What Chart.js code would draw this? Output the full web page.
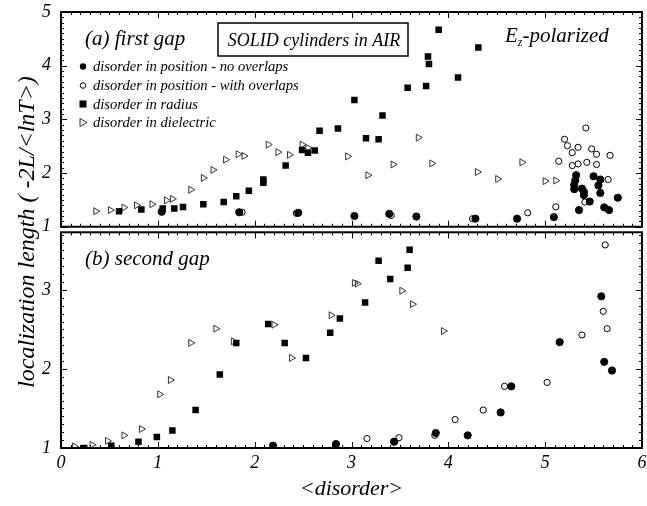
<!DOCTYPE html>
<html>
<head>
<meta charset="utf-8">
<script src="https://cdn.jsdelivr.net/npm/chart.js@4.4.1/dist/chart.umd.min.js"></script>
<style>
  html, body { margin: 0; background: #fff; }
</style>
</head>
<body>
<canvas id="gapChart" width="647" height="506"></canvas>
<script>
// (a) first gap
const aNoOverlapX = [1.04, 1.84, 2.45, 3.03, 3.39, 3.67, 4.28, 4.71, 5.09, 5.32, 5.31, 5.30, 5.30, 5.38, 5.40, 5.40, 5.50, 5.57, 5.55, 5.57, 5.46, 5.35, 5.61, 5.66, 5.75];
const aNoOverlapY = [1.28, 1.27, 1.26, 1.20, 1.24, 1.19, 1.15, 1.15, 1.18, 1.96, 1.86, 1.78, 1.70, 1.71, 1.65, 1.59, 1.94, 1.88, 1.77, 1.63, 1.47, 1.31, 1.36, 1.31, 1.54];
const aOverlapX = [1.87, 2.43, 3.41, 4.25, 4.82, 5.11, 5.14, 5.20, 5.23, 5.28, 5.34, 5.42, 5.48, 5.53, 5.67, 5.28, 5.34, 5.43, 5.53, 5.65, 5.41];
const aOverlapY = [1.27, 1.25, 1.21, 1.15, 1.26, 1.37, 2.22, 2.63, 2.51, 2.38, 2.48, 2.84, 2.45, 2.35, 2.33, 2.14, 2.17, 2.20, 2.16, 1.88, 1.46];
const aRadiusX = [0.60, 0.83, 1.05, 1.17, 1.26, 1.47, 1.68, 1.81, 1.94, 2.09, 2.09, 2.32, 2.49, 2.55, 2.62, 2.67, 2.86, 3.03, 3.15, 3.28, 3.32, 3.58, 3.77, 3.79, 3.80, 3.90, 4.10, 4.31];
const aRadiusY = [1.29, 1.32, 1.34, 1.34, 1.37, 1.42, 1.46, 1.57, 1.67, 1.82, 1.88, 2.14, 2.43, 2.38, 2.42, 2.79, 2.83, 3.36, 2.65, 2.63, 3.07, 3.59, 3.62, 4.17, 4.03, 4.67, 3.78, 4.34];
const aDielX = [0.36, 0.51, 0.65, 0.78, 0.94, 1.09, 1.15, 1.34, 1.47, 1.57, 1.70, 1.83, 1.89, 2.14, 2.24, 2.36, 2.49, 2.55, 2.96, 3.17, 3.43, 3.69, 3.83, 4.30, 4.51, 4.76, 5.00, 5.11];
const aDielY = [1.29, 1.31, 1.36, 1.40, 1.42, 1.49, 1.52, 1.69, 1.91, 2.06, 2.25, 2.35, 2.32, 2.53, 2.39, 2.34, 2.53, 2.47, 2.31, 1.96, 2.16, 2.66, 2.18, 2.02, 1.89, 2.20, 1.85, 1.86];

// (b) second gap
const bNoOverlapX = [2.19, 2.84, 3.44, 3.87, 4.20, 4.54, 4.65, 5.15, 5.58, 5.61, 5.69];
const bNoOverlapY = [1.03, 1.05, 1.08, 1.19, 1.16, 1.45, 1.78, 2.34, 2.92, 2.09, 1.98];
const bOverlapX = [3.16, 3.49, 3.86, 4.07, 4.36, 4.58, 5.02, 5.38, 5.60, 5.64, 5.62];
const bOverlapY = [1.12, 1.13, 1.16, 1.36, 1.48, 1.78, 1.83, 2.43, 2.73, 2.51, 3.57];
const bRadiusX = [0.24, 0.52, 0.80, 0.99, 1.15, 1.39, 1.64, 1.81, 2.14, 2.31, 2.53, 2.78, 2.88, 3.14, 3.28, 3.40, 3.58, 3.60];
const bRadiusY = [1.00, 1.03, 1.08, 1.14, 1.22, 1.48, 1.93, 2.33, 2.57, 2.33, 2.14, 2.46, 2.64, 2.84, 3.37, 3.14, 3.28, 3.51];
const bDielX = [0.14, 0.32, 0.48, 0.65, 0.83, 1.02, 1.13, 1.34, 1.60, 1.78, 2.20, 2.38, 2.79, 3.03, 3.06, 3.52, 3.63, 3.95];
const bDielY = [1.02, 1.04, 1.09, 1.16, 1.24, 1.68, 1.86, 2.33, 2.51, 2.35, 2.56, 2.14, 2.68, 3.09, 3.08, 2.99, 2.82, 2.48];

const xTicks = [0, 1, 2, 3, 4, 5, 6];
const legendLabels = [
  "disorder in position - no overlaps",
  "disorder in position - with overlaps",
  "disorder in radius",
  "disorder in dielectric"
];

const serif = "'Liberation Serif', 'DejaVu Serif', serif";

function pts(xs, ys) {
  return xs.map((x, i) => ({ x: x, y: ys[i] }));
}

// marker looks for the four kinds of disorder
const filledDot = { pointStyle: "circle", pointRadius: 3.6, backgroundColor: "#000", borderColor: "#000", borderWidth: 1 };
const openDot = { pointStyle: "circle", pointRadius: 3.1, backgroundColor: "#fff", borderColor: "#000", borderWidth: 1 };
const square = { pointStyle: "rect", pointRadius: 4.6, backgroundColor: "#000", borderColor: "#000", borderWidth: 0 };
const tri = { pointStyle: "triangle", pointRadius: 4, rotation: 90, backgroundColor: "rgba(0,0,0,0)", borderColor: "#333", borderWidth: 1 };

function ds(label, data, look, axis) {
  return Object.assign({ label: label, data: data, yAxisID: axis, showLine: false }, look);
}

const datasets = [
  ds(legendLabels[0], pts(aNoOverlapX, aNoOverlapY), filledDot, "yTop"),
  ds(legendLabels[1], pts(aOverlapX, aOverlapY), openDot, "yTop"),
  ds(legendLabels[2], pts(aRadiusX, aRadiusY), square, "yTop"),
  ds(legendLabels[3], pts(aDielX, aDielY), tri, "yTop"),
  ds(legendLabels[0], pts(bNoOverlapX, bNoOverlapY), filledDot, "yBottom"),
  ds(legendLabels[1], pts(bOverlapX, bOverlapY), openDot, "yBottom"),
  ds(legendLabels[2], pts(bRadiusX, bRadiusY), square, "yBottom"),
  ds(legendLabels[3], pts(bDielX, bDielY), tri, "yBottom")
];

// frames, inward tick marks and the annotations
const decorations = {
  id: "decorations",
  afterDraw(chart) {
    const ctx = chart.ctx;
    const xs = chart.scales.x;
    const panels = [
      { s: chart.scales.yTop, lo: 1, hi: 5 },
      { s: chart.scales.yBottom, lo: 1, hi: 3.73 }
    ];
    ctx.save();
    ctx.strokeStyle = "#000";
    panels.forEach(p => {
      const top = p.s.getPixelForValue(p.hi);
      const bot = p.s.getPixelForValue(p.lo);
      const l = xs.getPixelForValue(0), r = xs.getPixelForValue(6);
      ctx.lineWidth = 1;
      ctx.beginPath();
      for (let i = 0; i <= 60; i++) {
        const px = Math.round(xs.getPixelForValue(i / 10)) + 0.5;
        const len = i % 10 === 0 ? 6 : 3;
        ctx.moveTo(px, bot); ctx.lineTo(px, bot - len);
        ctx.moveTo(px, top); ctx.lineTo(px, top + len);
      }
      for (let v = Math.round(p.lo * 10); v <= Math.floor(p.hi * 10); v++) {
        const py = Math.round(p.s.getPixelForValue(v / 10)) + 0.5;
        const len = v % 10 === 0 ? 6 : 3;
        ctx.moveTo(l, py); ctx.lineTo(l + len, py);
        ctx.moveTo(r, py); ctx.lineTo(r - len, py);
      }
      ctx.stroke();
      ctx.lineWidth = 2;
      ctx.strokeRect(l, top, r - l, bot - top);
    });

    ctx.fillStyle = "#000";
    ctx.textBaseline = "alphabetic";
    ctx.textAlign = "left";
    ctx.font = "italic 21px " + serif;
    ctx.fillText("(a) first gap", 85, 45);
    ctx.fillText("(b) second gap", 85, 265);

    // boxed title
    ctx.lineWidth = 1.5;
    ctx.fillStyle = "#fff";
    ctx.fillRect(218, 23, 190, 33);
    ctx.strokeRect(218, 23, 190, 33);
    ctx.fillStyle = "#000";
    ctx.textAlign = "center";
    ctx.font = "italic 18px " + serif;
    ctx.fillText("SOLID cylinders in AIR", 314, 46);

    // E_z-polarized
    ctx.textAlign = "left";
    ctx.font = "italic 21px " + serif;
    ctx.fillText("E", 505, 42);
    let ex = 505 + ctx.measureText("E").width;
    ctx.font = "italic 12px " + serif;
    ctx.fillText("z", ex, 46);
    ex += ctx.measureText("z").width;
    ctx.font = "italic 21px " + serif;
    ctx.fillText("-polarized", ex, 42);

    // legend
    const rows = [66.5, 85.5, 104, 122.5];
    const mx = 83;
    ctx.font = "italic 14.6px " + serif;
    rows.forEach((ry, i) => {
      ctx.fillStyle = "#000";
      ctx.fillText(legendLabels[i], 93, ry + 4.5);
      ctx.beginPath();
      if (i === 0) {
        ctx.arc(mx, ry, 3.2, 0, Math.PI * 2);
        ctx.fill();
      } else if (i === 1) {
        ctx.lineWidth = 1;
        ctx.arc(mx, ry, 2.8, 0, Math.PI * 2);
        ctx.stroke();
      } else if (i === 2) {
        ctx.fillRect(mx - 3.5, ry - 3.5, 7, 7);
      } else {
        ctx.lineWidth = 1;
        ctx.strokeStyle = "#333";
        ctx.moveTo(mx - 3, ry - 4);
        ctx.lineTo(mx + 4, ry);
        ctx.lineTo(mx - 3, ry + 4);
        ctx.closePath();
        ctx.stroke();
        ctx.strokeStyle = "#000";
      }
    });

    // y title
    ctx.save();
    ctx.translate(28, 232);
    ctx.rotate(-Math.PI / 2);
    ctx.textAlign = "center";
    ctx.textBaseline = "middle";
    ctx.font = "italic 24px " + serif;
    ctx.fillText("localization length ( -2L/<lnT>)", 0, 0);
    ctx.restore();
    ctx.restore();
  }
};

const tickFont = { family: serif, size: 18, style: "italic" };

function fitY(s) {
  s.width = 61;
  s.paddingTop = 0;
  s.paddingBottom = 0;
}

const config = {
  type: "scatter",
  data: { datasets: datasets },
  options: {
    responsive: false,
    animation: false,
    devicePixelRatio: 1,
    layout: { padding: { top: 12, right: 4, left: 0, bottom: 0 } },
    plugins: { legend: { display: false }, tooltip: { enabled: false } },
    scales: {
      x: {
        type: "linear",
        position: "bottom",
        min: 0,
        max: 6,
        afterBuildTicks: s => { s.ticks = xTicks.map(v => ({ value: v })); },
        ticks: { color: "#000", font: tickFont, padding: 4 },
        grid: { display: false, drawTicks: false },
        border: { display: false },
        title: { display: true, text: "<disorder>", color: "#000", font: { family: serif, size: 22, style: "italic" }, padding: { top: 2 } },
        afterFit: s => { s.height = 58; s.paddingLeft = 0; s.paddingRight = 0; }
      },
      yBottom: {
        type: "linear",
        position: "left",
        stack: "gaps",
        stackWeight: 221.5,
        min: 1,
        max: 3.8,
        afterBuildTicks: s => { s.ticks = s.ticks.filter(t => Number.isInteger(t.value)); },
        ticks: { stepSize: 1, color: "#000", font: tickFont, padding: 10 },
        grid: { display: false, drawTicks: false },
        border: { display: false },
        afterFit: fitY
      },
      yTop: {
        type: "linear",
        position: "left",
        stack: "gaps",
        stackWeight: 215,
        min: 1,
        max: 5,
        ticks: { stepSize: 1, color: "#000", font: tickFont, padding: 10 },
        grid: { display: false, drawTicks: false },
        border: { display: false },
        afterFit: fitY
      }
    }
  },
  plugins: [decorations]
};

const ctx = document.getElementById("gapChart").getContext("2d");
const gapChart = new Chart(ctx, config);
</script>
</body>
</html>
